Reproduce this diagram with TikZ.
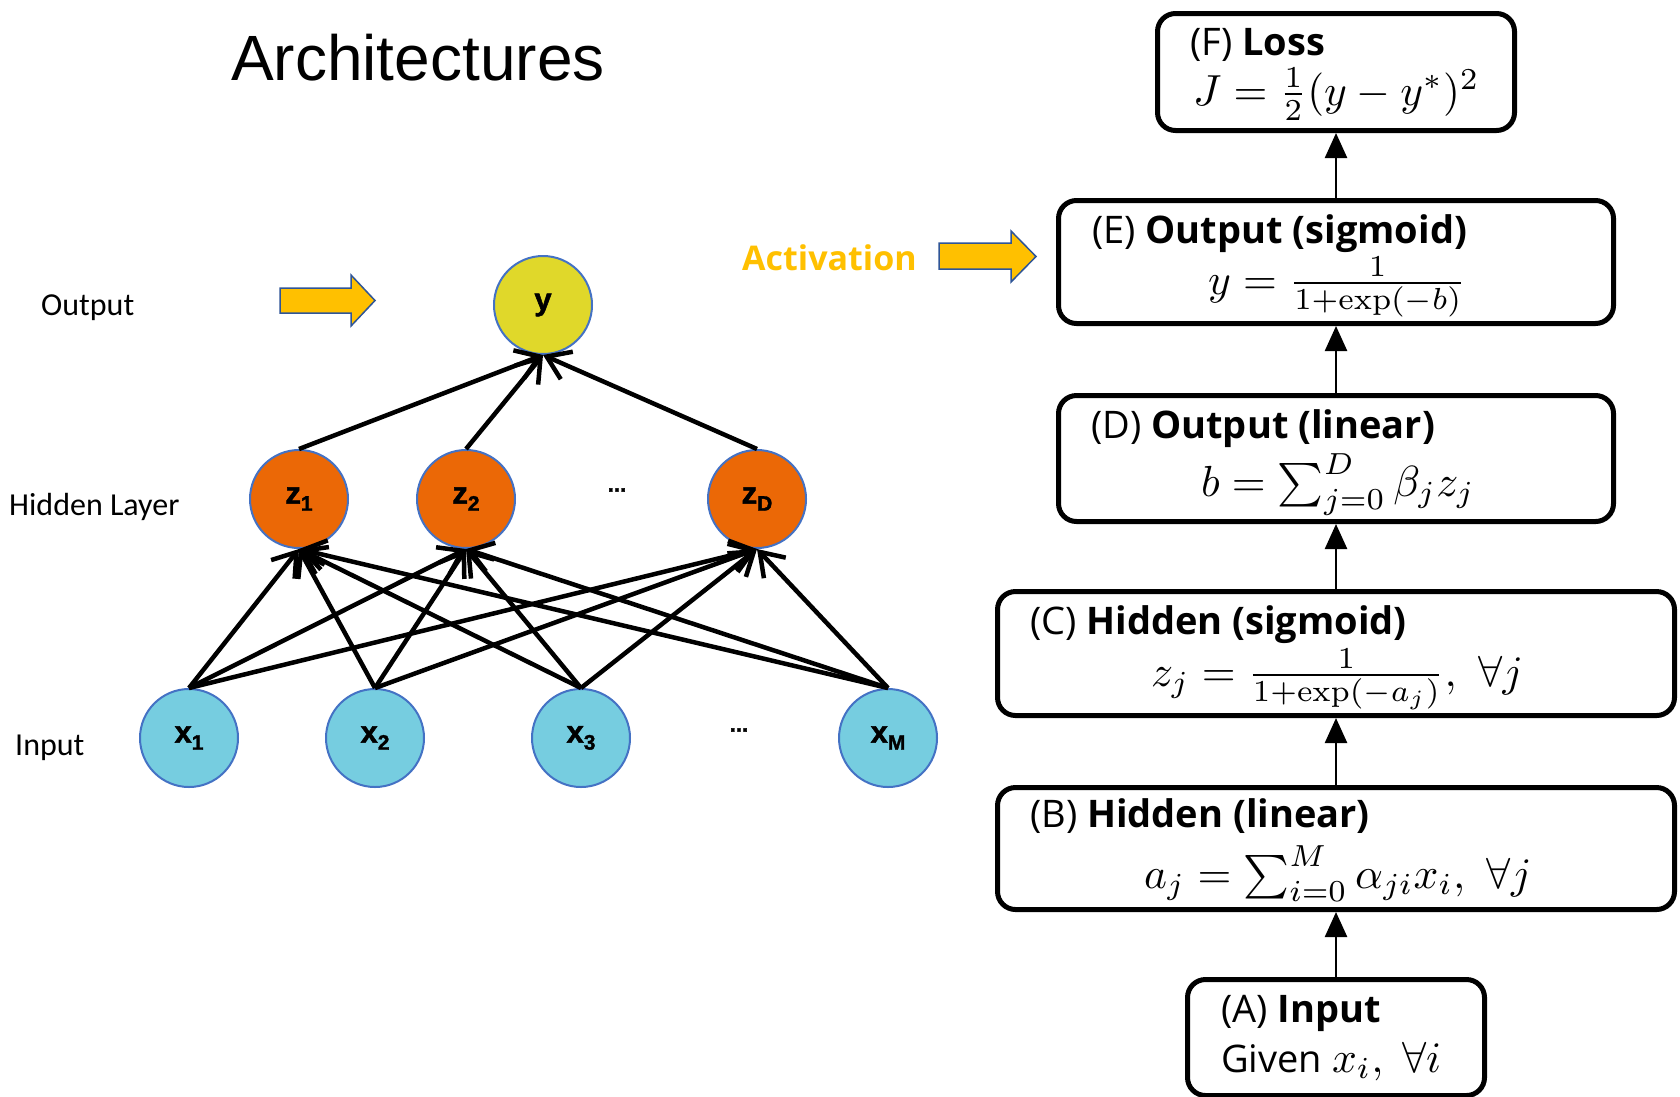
\RequirePackage{fix-cm}
\documentclass[tikz,border=0pt]{standalone}
\usepackage{exscale}
\usepackage{graphicx}
\usepackage[no-math]{fontspec}
\newfontfamily\arialfont{Liberation Sans}
\newfontfamily\nodefont{Liberation Sans Bold}[FakeBold=1.6]
\newfontfamily\labfont{Carlito}
\newfontfamily\boxfont{Open Sans}
\usetikzlibrary{arrows.meta}

\definecolor{nblue}{HTML}{4472C4}
\definecolor{yfill}{HTML}{E0D82A}
\definecolor{zfill}{HTML}{EB6806}
\definecolor{xfill}{HTML}{76CDE0}
\definecolor{gold}{HTML}{FFC000}
\definecolor{arrowedge}{HTML}{2F5597}

% neuron label: heavy letter with a lowered, smaller index
\newcommand\nlab[2]{#1\raisebox{-7pt}{\fontsize{21}{21}\selectfont #2}}
% formulas are set at 10pt and enlarged as a whole
\newcommand\eqn[1]{\scalebox{4.35}{\fontsize{10}{12}\selectfont$#1$}}

\begin{document}
\begin{tikzpicture}[x=1pt,y=-1pt,
  neuron/.style={circle, draw=nblue, line width=2pt, minimum size=98pt,
    inner sep=0pt, font=\nodefont\fontsize{31}{31}\selectfont},
  netedge/.style={line width=4.5pt, -{Straight Barb[length=22pt,width=30pt]}},
  layerlab/.style={anchor=base west, inner sep=0pt, font=\labfont\fontsize{32}{32}\selectfont},
  dots/.style={inner sep=0pt, font=\nodefont\fontsize{22}{22}\selectfont},
  blockarrow/.style={fill=gold, draw=arrowedge, line width=1.5pt, line join=miter},
  stagebox/.style={draw, line width=5pt, rounded corners=18pt, inner sep=0pt},
  stagetitle/.style={anchor=base west, inner sep=0pt, font=\boxfont\fontsize{38}{38}\selectfont},
  stagemath/.style={anchor=base west, inner sep=0pt},
  flow/.style={line width=2.5pt, -{Triangle[length=25pt,width=22pt]}}
]
\useasboundingbox (0,0) rectangle (1680,1096);

% ---------- title ----------
\node[anchor=base west, inner sep=0pt, font=\arialfont\fontsize{64}{64}\selectfont]
  (title) at (231,80) {Architectures};

% ---------- layer names ----------
\node[layerlab] (lout) at (41,315) {Output};
\node[layerlab] (lhid) at (9,515) {Hidden Layer};
\node[layerlab] (lin)  at (15,755) {Input};

% ---------- network ----------
\node[neuron, fill=yfill] (y)  at (543,305) {y};
\node[neuron, fill=zfill] (z1) at (299,499) {\nlab{z}{1}};
\node[neuron, fill=zfill] (z2) at (466,499) {\nlab{z}{2}};
\node[neuron, fill=zfill] (zD) at (757,499) {\nlab{z}{D}};
\node[neuron, fill=xfill] (x1) at (189,738) {\nlab{x}{1}};
\node[neuron, fill=xfill] (x2) at (375,738) {\nlab{x}{2}};
\node[neuron, fill=xfill] (x3) at (581,738) {\nlab{x}{3}};
\node[neuron, fill=xfill] (xM) at (888,738) {\nlab{x}{M}};
\node[dots] (hdots) at (617,490) {...};
\node[dots] (idots) at (739,730) {...};

\foreach \s in {x1,x2,x3,xM}
  \foreach \t in {z1,z2,zD}
    \draw[netedge] (\s.north) -- (\t.south);
\foreach \s in {z1,z2,zD}
  \draw[netedge] (\s.north) -- (y.south);

% ---------- block arrows ----------
\draw[blockarrow] (280,288) -- (351,288) -- (351,275) -- (375,300.5)
  -- (351,326) -- (351,313) -- (280,313) -- cycle;
\draw[blockarrow] (939,243) -- (1011,243) -- (1011,231) -- (1036,256.5)
  -- (1011,282) -- (1011,269) -- (939,269) -- cycle;
\node[anchor=base west, inner sep=0pt, text=gold,
  font=\boxfont\bfseries\fontsize{34}{34}\selectfont] (act) at (742,270) {Activation};

% ---------- computation stages ----------
\node[stagebox, minimum width=357pt, minimum height=117pt] (F) at (1336,72) {};
\node[stagebox, minimum width=555pt, minimum height=123pt] (E) at (1336,262) {};
\node[stagebox, minimum width=555pt, minimum height=126pt] (D) at (1336,458.5) {};
\node[stagebox, minimum width=677pt, minimum height=124pt] (C) at (1336,653.5) {};
\node[stagebox, minimum width=677pt, minimum height=122pt] (B) at (1336,848.5) {};
\node[stagebox, minimum width=297pt, minimum height=116pt] (A) at (1336,1037.5) {};

\node[stagetitle] (Ft) at (1190,55) {(F) \textbf{Loss}};
\node[stagemath]  (Fm) at (1193,105) {\eqn{J = \frac{1}{2}(y-y^*)^2}};
\node[stagetitle] (Et) at (1092,243) {(E) \textbf{Output (sigmoid)}};
\node[stagemath]  (Em) at (1208,294) {\eqn{y = \frac{1}{1+\exp(-b)}}};
\node[stagetitle] (Dt) at (1091,438) {(D) \textbf{Output (linear)}};
\node[stagemath]  (Dm) at (1201,496) {\eqn{b = \sum_{j=0}^{D}\beta_j z_j}};
\node[stagetitle] (Ct) at (1030,634) {(C) \textbf{Hidden (sigmoid)}};
\node[stagemath]  (Cm) at (1151,686) {\eqn{z_j = \frac{1}{1+\exp(-a_j)},\ \forall j}};
\node[stagetitle] (Bt) at (1030,827) {(B) \textbf{Hidden (linear)}};
\node[stagemath]  (Bm) at (1144,888) {\eqn{a_j = \sum_{i=0}^{M}\alpha_{ji}x_i,\ \forall j}};
\node[stagetitle] (At) at (1221,1022) {(A) \textbf{Input}};
\node[stagetitle] (Am) at (1221,1072) {Given \eqn{x_i,\ \forall i}};

\draw[flow] (A.north) -- (B.south);
\draw[flow] (B.north) -- (C.south);
\draw[flow] (C.north) -- (D.south);
\draw[flow] (D.north) -- (E.south);
\draw[flow] (E.north) -- (F.south);
\end{tikzpicture}
\end{document}
